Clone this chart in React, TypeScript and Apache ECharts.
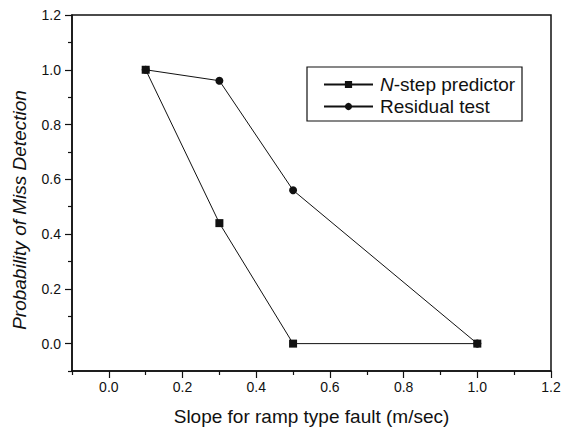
import React, { useEffect, useRef } from "react";
import * as echarts from "echarts";

const nstepX = [0.1, 0.3, 0.5, 1.0];
const nstepY = [1.0, 0.44, 0.0, 0.0];
const residualX = [0.1, 0.3, 0.5, 1.0];
const residualY = [1.0, 0.96, 0.56, 0.0];
const majorTicks = [0, 0.2, 0.4, 0.6, 0.8, 1.0, 1.2];
const minorTicks = [-0.1, 0.1, 0.3, 0.5, 0.7, 0.9, 1.1];
const xTitle = "Slope for ramp type fault (m/sec)";
const yTitle = "Probability of Miss Detection";

const FONT = "Liberation Sans, Arial, sans-serif";
const INK = "#111";

export default function App() {
  const ref = useRef<HTMLDivElement>(null);
  useEffect(() => {
    if (!ref.current) return;
    const chart = echarts.init(ref.current, null, { renderer: "svg" });
    const axisCommon = {
      type: "value",
      min: -0.1,
      max: 1.2,
      splitLine: { show: false },
    };
    const mk = (xs: number[], ys: number[]) => xs.map((x, i) => [x, ys[i]]);
    const label = (margin: number) => ({
      customValues: majorTicks,
      formatter: (v: number) => v.toFixed(1),
      color: INK,
      fontSize: 14,
      fontFamily: FONT,
      margin,
    });
    chart.setOption({
      animation: false,
      backgroundColor: "#fff",
      grid: {
        left: 72,
        top: 15,
        right: 23,
        bottom: 56,
        show: true,
        borderColor: INK,
        borderWidth: 1.5,
      },
      xAxis: [
        {
          ...axisCommon,
          position: "bottom",
          axisLine: { show: true, onZero: false, lineStyle: { color: INK, width: 1.5 } },
          axisTick: { show: true, customValues: majorTicks, length: 7, lineStyle: { color: INK, width: 1.2 } },
          axisLabel: label(9),
          name: xTitle,
          nameLocation: "middle",
          nameGap: 36,
          nameTextStyle: { color: INK, fontSize: 19, fontFamily: FONT },
        },
        {
          ...axisCommon,
          position: "bottom",
          axisLine: { show: false, onZero: false },
          axisTick: { show: true, customValues: minorTicks, length: 4, lineStyle: { color: INK, width: 1.2 } },
          axisLabel: { show: false },
        },
      ],
      yAxis: [
        {
          ...axisCommon,
          position: "left",
          axisLine: { show: true, onZero: false, lineStyle: { color: INK, width: 1.5 } },
          axisTick: { show: true, customValues: majorTicks, length: 7, lineStyle: { color: INK, width: 1.2 } },
          axisLabel: label(11),
        },
        {
          ...axisCommon,
          position: "left",
          axisLine: { show: false, onZero: false },
          axisTick: { show: true, customValues: minorTicks, length: 4, lineStyle: { color: INK, width: 1.2 } },
          axisLabel: { show: false },
        },
      ],
      graphic: [
        {
          type: "text",
          x: 19.5,
          y: 210,
          rotation: Math.PI / 2,
          style: {
            text: yTitle,
            fill: INK,
            fontSize: 19,
            fontStyle: "italic",
            fontFamily: FONT,
            align: "center",
            verticalAlign: "middle",
          },
        },
        {
          type: "rect",
          shape: { x: 307, y: 67, width: 215, height: 54 },
          style: { fill: "#fff", stroke: INK, lineWidth: 1.2 },
          z: 5,
        },
      ],
      legend: {
        orient: "vertical",
        left: 323,
        top: 75,
        padding: 0,
        itemWidth: 49,
        itemHeight: 9,
        itemGap: 3,
        z: 10,
        textStyle: {
          color: INK,
          fontSize: 19,
          fontFamily: FONT,
          padding: [0, 0, 0, 2],
          rich: {
            i: { fontStyle: "italic", fontSize: 19, fontFamily: FONT, color: INK },
          },
        },
        formatter: (name: string) => (name === "N-step predictor" ? "{i|N}-step predictor" : name),
        data: ["N-step predictor", "Residual test"],
      },
      series: [
        {
          name: "Residual test",
          type: "line",
          data: mk(residualX, residualY),
          symbol: "circle",
          symbolSize: 8,
          lineStyle: { color: INK, width: 1 },
          itemStyle: { color: INK },
        },
        {
          name: "N-step predictor",
          type: "line",
          z: 3,
          data: mk(nstepX, nstepY),
          symbol: "rect",
          symbolSize: 8,
          lineStyle: { color: INK, width: 1 },
          itemStyle: { color: INK },
        },
      ],
    });
    return () => chart.dispose();
  }, []);
  return (
    <div
      ref={ref}
      style={{ position: "absolute", left: 0, top: 0, width: 574, height: 431 }}
    />
  );
}
